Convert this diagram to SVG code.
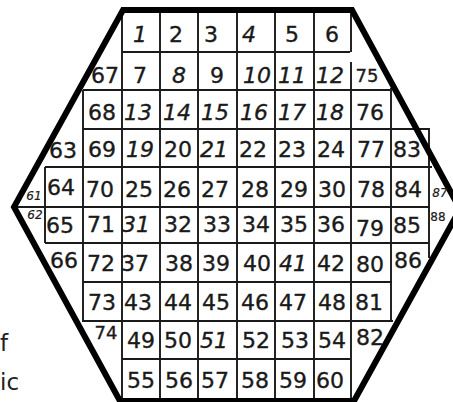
<svg xmlns="http://www.w3.org/2000/svg" width="453" height="402" viewBox="0 0 453 402">
<style>
.hex{fill:none;stroke:#000;stroke-width:6;stroke-linejoin:miter}
.g{stroke:#1a1a1a;stroke-width:1.9;fill:none}
text{font-family:"DejaVu Sans","Liberation Sans",sans-serif;fill:#1a1a1a;stroke:#1a1a1a;stroke-width:0.35;text-anchor:middle}
.n{font-size:22px}
.i{font-style:italic}
.s{font-size:18px}
.xs{font-size:12px;stroke-width:0.2}
.side{font-size:23px;text-anchor:start;fill:#222;stroke:none}
</style>
<rect width="453" height="402" fill="#fff"/>
<g id="grid">
<path class="g" d="M122,52H350 M83,90H390 M83,129H429 M45,167H432 M13,207H430 M45,243H429 M83,282H392 M83,321H393 M122,359H350"/>
<path class="g" d="M122,10V400 M160,10V400 M198,10V400 M237,10V400 M275,10V400 M314,10V400 M351,12V52 M351,62V400 M391,88V321 M429,128V258 M83,90V322 M45,167V243"/>
</g>
<g id="hexagon"><path class="hex" d="M123,10 L352,10 L460,209 L354,401 L120,401 L14,207 Z"/></g>
<g id="row0">
<text class="n i" x="140" y="42">1</text><text class="n" x="176" y="42">2</text><text class="n" x="211" y="42">3</text><text class="n i" x="249" y="42">4</text><text class="n" x="292" y="42">5</text><text class="n" x="332" y="42">6</text>
</g>
<g id="row1">
<text class="n" x="105" y="83">67</text><text class="n" x="140" y="83">7</text><text class="n i" x="179" y="83">8</text><text class="n" x="217" y="83">9</text><text class="n i" x="257" y="83">10</text><text class="n i" x="292" y="83">11</text><text class="n i" x="330" y="83">12</text><text class="s" x="367" y="82">75</text>
</g>
<g id="row2">
<text class="n" x="102" y="120">68</text><text class="n i" x="138" y="120">13</text><text class="n i" x="177" y="120">14</text><text class="n i" x="215" y="120">15</text><text class="n i" x="254" y="120">16</text><text class="n i" x="292" y="120">17</text><text class="n i" x="330" y="120">18</text><text class="n" x="370" y="120">76</text>
</g>
<g id="row3">
<text class="n" x="63" y="158">63</text><text class="n" x="102" y="157">69</text><text class="n i" x="140" y="157">19</text><text class="n" x="178" y="157">20</text><text class="n i" x="214" y="157">21</text><text class="n" x="253" y="157">22</text><text class="n" x="292" y="157">23</text><text class="n" x="331" y="157">24</text><text class="n" x="371" y="157">77</text><text class="n" x="407" y="157">83</text>
</g>
<g id="row4">
<text class="xs i" x="34" y="200">61</text><text class="n" x="61" y="195">64</text><text class="n" x="100" y="197">70</text><text class="n" x="139" y="197">25</text><text class="n" x="177" y="197">26</text><text class="n" x="215" y="197">27</text><text class="n" x="255" y="197">28</text><text class="n" x="294" y="197">29</text><text class="n" x="332" y="197">30</text><text class="n" x="371" y="197">78</text><text class="n" x="408" y="197">84</text><text class="xs i" x="440" y="197">87</text>
</g>
<g id="row5">
<text class="xs i" x="35" y="219">62</text><text class="n" x="60" y="233">65</text><text class="n" x="101" y="232">71</text><text class="n i" x="136" y="232">31</text><text class="n" x="178" y="232">32</text><text class="n" x="217" y="232">33</text><text class="n" x="256" y="232">34</text><text class="n" x="294" y="232">35</text><text class="n" x="331" y="232">36</text><text class="n" x="370" y="236">79</text><text class="n" x="407" y="233">85</text><text class="xs" x="438" y="221">88</text>
</g>
<g id="row6">
<text class="n" x="64" y="268">66</text><text class="n" x="101" y="271">72</text><text class="n" x="135" y="271">37</text><text class="n" x="179" y="271">38</text><text class="n" x="216" y="271">39</text><text class="n" x="257" y="271">40</text><text class="n i" x="293" y="271">41</text><text class="n" x="331" y="271">42</text><text class="n" x="370" y="272">80</text><text class="n" x="408" y="268">86</text>
</g>
<g id="row7">
<text class="n" x="102" y="310">73</text><text class="n" x="138" y="310">43</text><text class="n" x="178" y="310">44</text><text class="n" x="216" y="310">45</text><text class="n" x="255" y="310">46</text><text class="n" x="293" y="310">47</text><text class="n" x="332" y="310">48</text><text class="n" x="369" y="310">81</text>
</g>
<g id="row8">
<text class="s" x="106" y="339">74</text><text class="n" x="141" y="348">49</text><text class="n" x="178" y="348">50</text><text class="n i" x="214" y="348">51</text><text class="n" x="256" y="348">52</text><text class="n" x="295" y="348">53</text><text class="n" x="332" y="348">54</text><text class="n" x="370" y="345">82</text>
</g>
<g id="row9">
<text class="n" x="141" y="388">55</text><text class="n" x="179" y="388">56</text><text class="n" x="215" y="388">57</text><text class="n" x="255" y="388">58</text><text class="n" x="293" y="388">59</text><text class="n" x="330" y="388">60</text>
</g>
<g id="margin-text">
<text class="side" x="0" y="351">f</text>
<text class="side" x="0" y="390">ic</text>
</g>
</svg>
